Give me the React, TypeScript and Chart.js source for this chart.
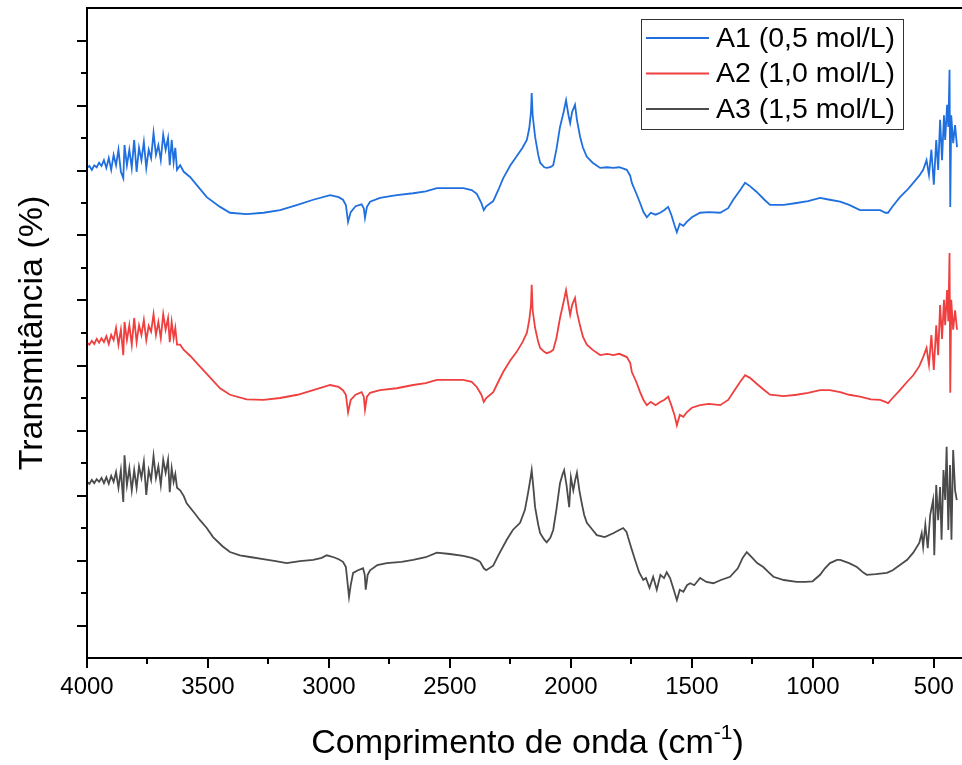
import { useEffect, useRef } from 'react';
import { Chart, registerables } from 'chart.js';

Chart.register(...registerables);

// ---------- text ----------
const SERIES_LABELS = ['A1 (0,5 mol/L)', 'A2 (1,0 mol/L)', 'A3 (1,5 mol/L)'];
const SERIES_COLORS = ['#1F6FDF', '#EF3F3F', '#4B4B4B'];
const X_TITLE_MAIN = 'Comprimento de onda (cm';
const X_TITLE_SUP = '-1';
const X_TITLE_END = ')';
const Y_TITLE = 'Transmitância (%)';

// ---------- axes ----------
const X_MIN = 400;
const X_MAX = 4000;
const X_TICKS = [4000, 3500, 3000, 2500, 2000, 1500, 1000, 500];
const X_MINOR_TICKS = [3750, 3250, 2750, 2250, 1750, 1250, 750];
const Y_MIN = 0;
const Y_MAX = 100;
const Y_MAJOR_TICKS = [5, 15, 25, 35, 45, 55, 65, 75, 85, 95];
const Y_MINOR_TICKS = [10, 20, 30, 40, 50, 60, 70, 80, 90];

// ---------- data: wavenumbers (cm-1) shared by A1 and A2 ----------
const WN_A1_A2 = [
  4000, 3990, 3980, 3970, 3960, 3950, 3940, 3930, 3920, 3910, 3900, 3890, 3880, 3870, 3860, 3850, 3845, 3835, 3825, 3815,
  3805, 3795, 3785, 3775, 3765, 3755, 3745, 3735, 3725, 3715, 3705, 3695, 3685, 3675, 3665, 3658, 3650, 3642, 3635, 3628,
  3615, 3600, 3574, 3547, 3505, 3450, 3409, 3340, 3270, 3202, 3130, 3065, 2995, 2960, 2942, 2930, 2921, 2910, 2890, 2865,
  2856, 2851, 2843, 2830, 2789, 2720, 2652, 2600, 2554, 2500, 2445, 2410, 2389, 2370, 2360, 2350, 2321, 2300, 2280, 2250,
  2224, 2200, 2182, 2172, 2165, 2162, 2158, 2148, 2135, 2127, 2110, 2100, 2085, 2073, 2060, 2045, 2030, 2020, 2010, 2003,
  1995, 1983, 1975, 1962, 1950, 1934, 1910, 1879, 1850, 1825, 1800, 1769, 1755, 1748, 1730, 1714, 1700, 1686, 1670, 1650,
  1631, 1615, 1598, 1585, 1572, 1562, 1550, 1535, 1521, 1500, 1466, 1430, 1383, 1350, 1329, 1300, 1280, 1260, 1232, 1200,
  1177, 1120, 1067, 1020, 970, 930, 887, 850, 805, 760, 722, 700, 689, 670, 640, 610, 585, 560, 544, 530,
  520, 510, 500, 490, 482, 474, 466, 458, 453, 445, 440, 435, 432, 428, 420, 412, 404,
];

const T_A1 = [
  75.4, 75.7, 75.1, 75.8, 75.5, 76.2, 75.7, 76.6, 75.4, 76.9, 75.1, 77.4, 75.8, 78.2, 74.8, 73.8, 78.9, 75.8, 78.2, 75.4,
  79.7, 74.8, 78.5, 76.6, 79.4, 75.4, 78.2, 76.9, 80.8, 77.4, 78.9, 76.6, 80.5, 78.2, 80.0, 75.8, 79.7, 76.3, 78.5, 75.1,
  75.8, 74.8, 74.0, 72.8, 70.9, 69.4, 68.5, 68.3, 68.5, 68.9, 69.7, 70.5, 71.2, 70.9, 70.5, 69.7, 67.1, 68.6, 69.5, 69.8,
  69.2, 67.7, 69.4, 70.2, 70.8, 71.2, 71.5, 71.8, 72.3, 72.3, 72.3, 72.0, 71.4, 70.0, 68.9, 69.5, 70.3, 72.0, 73.8, 75.8,
  77.2, 78.5, 79.7, 81.5, 84.0, 86.9, 83.5, 80.2, 77.4, 76.2, 75.5, 75.4, 75.5, 75.8, 78.2, 81.7, 84.0, 85.8, 83.5, 82.3,
  84.0, 85.1, 82.8, 80.2, 78.5, 77.1, 76.2, 75.4, 75.5, 75.4, 75.5, 75.1, 74.2, 73.1, 71.5, 70.0, 68.6, 67.8, 68.5, 68.2,
  68.5, 68.9, 69.4, 68.2, 66.6, 65.5, 66.8, 66.5, 67.1, 67.8, 68.5, 68.6, 68.5, 69.2, 70.5, 72.0, 73.1, 72.6, 71.7, 70.5,
  69.7, 69.7, 70.0, 70.3, 70.8, 70.5, 70.2, 69.7, 68.9, 68.9, 68.9, 68.5, 68.5, 69.5, 70.9, 72.0, 73.1, 74.2, 75.1, 76.6,
  74.3, 78.2, 72.8, 79.7, 75.1, 82.8, 76.6, 83.5, 79.7, 85.1, 81.7, 90.5, 69.4, 83.5, 79.2, 82.0, 78.6,
];

const T_A2 = [
  48.5, 48.2, 48.8, 48.3, 49.1, 48.5, 49.2, 48.6, 49.5, 48.3, 49.7, 48.9, 50.8, 48.2, 50.5, 46.6, 51.7, 48.9, 51.2, 48.2,
  52.3, 48.6, 51.2, 49.7, 52.0, 48.9, 51.1, 50.2, 52.9, 49.7, 51.7, 49.2, 52.9, 50.5, 52.3, 48.6, 51.7, 49.2, 50.8, 48.2,
  48.2, 47.4, 46.5, 45.4, 43.7, 41.5, 40.5, 39.8, 39.7, 40.0, 40.5, 41.2, 42.0, 41.7, 41.2, 40.5, 37.8, 39.7, 40.5, 40.9,
  40.2, 38.2, 40.2, 40.8, 41.2, 41.5, 42.0, 42.3, 42.8, 42.8, 42.8, 42.5, 41.7, 40.5, 39.4, 40.0, 40.9, 42.5, 44.0, 45.8,
  47.1, 48.6, 50.0, 52.0, 54.3, 57.4, 53.5, 50.8, 48.6, 47.7, 47.1, 46.9, 47.1, 47.4, 49.2, 52.3, 54.8, 56.6, 54.3, 52.8,
  54.3, 55.4, 53.2, 51.1, 49.4, 48.2, 47.4, 46.6, 46.8, 46.6, 46.8, 46.3, 45.4, 44.0, 42.5, 40.9, 39.7, 38.9, 39.4, 38.9,
  39.4, 39.7, 40.2, 38.9, 37.4, 35.8, 37.4, 37.1, 37.8, 38.5, 38.9, 39.1, 38.9, 39.7, 40.9, 42.5, 43.5, 43.1, 42.2, 41.2,
  40.5, 40.3, 40.5, 40.8, 41.2, 41.2, 40.9, 40.5, 40.2, 39.8, 39.7, 39.4, 39.2, 40.0, 41.2, 42.5, 43.5, 44.9, 46.3, 47.7,
  45.1, 49.7, 44.3, 51.2, 46.6, 54.3, 49.1, 55.1, 51.2, 56.6, 51.8, 62.3, 40.8, 55.1, 50.5, 53.5, 50.5,
];

// ---------- data: A3 ----------
const WN_A3 = [
  4000, 3990, 3980, 3970, 3960, 3950, 3940, 3930, 3920, 3910, 3900, 3890, 3880, 3870, 3860, 3850, 3845, 3835, 3825, 3815,
  3805, 3795, 3785, 3775, 3765, 3755, 3745, 3735, 3725, 3715, 3705, 3695, 3685, 3675, 3665, 3658, 3650, 3642, 3635, 3628,
  3615, 3600, 3588, 3560, 3533, 3505, 3479, 3440, 3409, 3368, 3320, 3272, 3220, 3175, 3120, 3065, 3030, 3009, 2980, 2960,
  2942, 2930, 2917, 2910, 2900, 2880, 2859, 2852, 2848, 2840, 2830, 2800, 2761, 2700, 2652, 2600, 2554, 2500, 2445, 2410,
  2389, 2375, 2360, 2350, 2321, 2300, 2265, 2240, 2210, 2190, 2177, 2168, 2162, 2155, 2148, 2135, 2127, 2110, 2100, 2085,
  2073, 2060, 2045, 2035, 2028, 2018, 2007, 2000, 1990, 1982, 1975, 1965, 1955, 1945, 1934, 1910, 1893, 1860, 1825, 1800,
  1784, 1770, 1764, 1750, 1735, 1718, 1701, 1690, 1675, 1660, 1645, 1630, 1615, 1604, 1590, 1575, 1562, 1550, 1535, 1520,
  1507, 1490, 1466, 1440, 1411, 1380, 1342, 1310, 1290, 1273, 1250, 1230, 1205, 1180, 1163, 1120, 1067, 1030, 1001, 970,
  950, 929, 900, 887, 850, 818, 790, 777, 740, 694, 670, 640, 610, 585, 560, 550, 544, 535, 525, 515,
  503, 498, 490, 482, 474, 468, 460, 453, 447, 440, 433, 427, 420, 412, 405,
];

const T_A3 = [
  27.1, 26.8, 27.4, 26.9, 27.5, 27.1, 27.7, 26.9, 27.8, 26.8, 28.0, 27.1, 28.6, 26.2, 28.9, 24.0, 31.2, 26.6, 29.2, 25.8,
  28.9, 26.2, 29.5, 27.7, 30.2, 25.1, 28.9, 27.4, 31.1, 27.7, 29.5, 26.6, 30.5, 28.5, 30.5, 25.5, 29.2, 27.1, 28.3, 26.2,
  25.8, 24.9, 23.8, 22.5, 21.2, 20.0, 18.6, 17.2, 16.3, 15.8, 15.5, 15.2, 14.9, 14.6, 14.9, 15.1, 15.4, 15.8, 15.5, 15.2,
  14.8, 14.0, 9.4, 11.2, 13.1, 13.5, 13.8, 12.8, 10.5, 12.8, 13.5, 14.3, 14.6, 14.8, 15.1, 15.5, 16.2, 16.0, 15.7, 15.4,
  15.1, 14.8, 13.8, 13.5, 14.2, 15.8, 18.2, 19.7, 20.8, 22.8, 25.4, 27.4, 28.9, 26.2, 23.2, 20.5, 19.2, 18.2, 17.8, 18.5,
  19.7, 22.8, 26.9, 28.2, 28.9, 26.6, 23.2, 27.8, 25.8, 27.4, 28.5, 25.8, 23.8, 22.0, 20.8, 19.7, 18.9, 18.6, 19.2, 19.7,
  20.0, 19.4, 18.6, 16.9, 15.1, 13.2, 12.0, 12.3, 10.8, 12.5, 10.5, 12.8, 12.3, 13.2, 12.3, 10.5, 8.9, 10.5, 10.2, 11.2,
  11.5, 11.2, 12.3, 11.7, 11.5, 12.0, 12.5, 13.8, 15.4, 16.3, 15.4, 14.6, 14.0, 13.1, 12.5, 12.0, 11.7, 11.7, 11.8, 12.8,
  13.8, 14.6, 15.1, 15.1, 14.6, 14.0, 13.1, 12.8, 12.9, 13.1, 13.5, 14.3, 15.1, 16.2, 17.7, 19.2, 17.1, 20.5, 16.9, 22.0,
  24.3, 15.8, 26.6, 21.2, 26.3, 18.2, 28.9, 24.3, 32.5, 19.7, 29.7, 18.2, 32.0, 25.8, 24.3,
];

const FONT_FAMILY = "'Liberation Sans', Arial, Helvetica, sans-serif";

const toPoints = (xs: number[], ys: number[]) => xs.map((x, i) => ({ x, y: ys[i] }));

const decorPlugin = {
  id: 'decor',
  afterDraw(chart: any) {
    const { ctx, chartArea: a, scales } = chart;
    const xs = scales.x;
    const ys = scales.y;
    ctx.save();
    ctx.strokeStyle = '#000';
    ctx.lineWidth = 2;
    ctx.lineCap = 'butt';
    // frame: left, bottom, top
    ctx.beginPath();
    ctx.moveTo(a.left, a.top - 1);
    ctx.lineTo(a.left, a.bottom + 1);
    ctx.moveTo(a.left - 1, a.bottom);
    ctx.lineTo(chart.width, a.bottom);
    ctx.moveTo(a.left - 1, a.top);
    ctx.lineTo(chart.width, a.top);
    ctx.stroke();
    // x ticks
    ctx.beginPath();
    X_TICKS.forEach((v) => {
      const px = Math.round(xs.getPixelForValue(v));
      ctx.moveTo(px, a.bottom);
      ctx.lineTo(px, a.bottom + 10);
    });
    X_MINOR_TICKS.forEach((v) => {
      const px = Math.round(xs.getPixelForValue(v));
      ctx.moveTo(px, a.bottom);
      ctx.lineTo(px, a.bottom + 6);
    });
    // y ticks
    Y_MAJOR_TICKS.forEach((v) => {
      const py = Math.round(ys.getPixelForValue(v));
      ctx.moveTo(a.left, py);
      ctx.lineTo(a.left - 10, py);
    });
    Y_MINOR_TICKS.forEach((v) => {
      const py = Math.round(ys.getPixelForValue(v));
      ctx.moveTo(a.left, py);
      ctx.lineTo(a.left - 6, py);
    });
    ctx.stroke();

    // x title with superscript
    ctx.fillStyle = '#000';
    ctx.textBaseline = 'alphabetic';
    ctx.textAlign = 'left';
    const mainFont = `34px ${FONT_FAMILY}`;
    const supFont = `21px ${FONT_FAMILY}`;
    ctx.font = mainFont;
    const w1 = ctx.measureText(X_TITLE_MAIN).width;
    const w3 = ctx.measureText(X_TITLE_END).width;
    ctx.font = supFont;
    const w2 = ctx.measureText(X_TITLE_SUP).width;
    const total = w1 + w2 + w3;
    const cx = (a.left + a.right) / 2 + 5;
    const base = a.bottom + 95;
    let x0 = cx - total / 2;
    ctx.font = mainFont;
    ctx.fillText(X_TITLE_MAIN, x0, base);
    x0 += w1;
    ctx.font = supFont;
    ctx.fillText(X_TITLE_SUP, x0, base - 14);
    x0 += w2;
    ctx.font = mainFont;
    ctx.fillText(X_TITLE_END, x0, base);

    // legend
    const bx0 = a.right - 317;
    const bx1 = a.right - 55;
    const by0 = a.top + 11;
    const by1 = a.top + 121;
    ctx.fillStyle = '#fff';
    ctx.fillRect(bx0, by0, bx1 - bx0, by1 - by0);
    ctx.strokeStyle = '#333';
    ctx.lineWidth = 1;
    ctx.strokeRect(bx0 + 0.5, by0 + 0.5, bx1 - bx0, by1 - by0);
    ctx.font = `28.5px ${FONT_FAMILY}`;
    ctx.textBaseline = 'middle';
    SERIES_LABELS.forEach((label, i) => {
      const ly = by0 + 19 + i * 35.5;
      ctx.strokeStyle = SERIES_COLORS[i];
      ctx.lineWidth = 2;
      ctx.beginPath();
      ctx.moveTo(bx0 + 5, ly);
      ctx.lineTo(bx0 + 68, ly);
      ctx.stroke();
      ctx.fillStyle = '#000';
      ctx.fillText(label, bx0 + 75, ly + 1);
    });
    ctx.restore();
  },
};

export default function App() {
  const canvasRef = useRef<HTMLCanvasElement | null>(null);

  useEffect(() => {
    const canvas = canvasRef.current;
    if (!canvas) return;
    const series = [
      toPoints(WN_A1_A2, T_A1),
      toPoints(WN_A1_A2, T_A2),
      toPoints(WN_A3, T_A3),
    ];
    const chart = new Chart(canvas, {
      type: 'line',
      data: {
        datasets: series.map((data, i) => ({
          label: SERIES_LABELS[i],
          data,
          borderColor: SERIES_COLORS[i],
          backgroundColor: SERIES_COLORS[i],
          borderWidth: 1.8,
          pointRadius: 0,
          tension: 0,
          fill: false,
        })),
      },
      options: {
        responsive: false,
        animation: false,
        devicePixelRatio: 1,
        layout: { padding: { top: 8, right: 4, left: 0, bottom: 0 } },
        plugins: {
          legend: { display: false },
          tooltip: { enabled: false },
        },
        scales: {
          x: {
            type: 'linear',
            reverse: true,
            min: X_MIN,
            max: X_MAX,
            grid: { display: false, drawTicks: false },
            border: { display: false },
            ticks: {
              autoSkip: false,
              maxRotation: 0,
              padding: 15,
              color: '#000',
              font: { family: FONT_FAMILY, size: 24 },
              callback: (v: any) => String(v),
            },
            afterBuildTicks: (scale: any) => {
              scale.ticks = X_TICKS.map((value) => ({ value }));
            },
            afterFit: (scale: any) => {
              scale.height = 107;
              scale.paddingLeft = 0;
              scale.paddingRight = 0;
            },
          },
          y: {
            type: 'linear',
            min: Y_MIN,
            max: Y_MAX,
            grid: { display: false, drawTicks: false },
            border: { display: false },
            ticks: { display: false },
            title: {
              display: true,
              text: Y_TITLE,
              color: '#000',
              font: { family: FONT_FAMILY, size: 34, weight: 'normal' },
              padding: { top: 12, bottom: 0 },
            },
            afterFit: (scale: any) => {
              scale.width = 87;
              scale.paddingTop = 0;
              scale.paddingBottom = 0;
            },
          },
        },
      },
      plugins: [decorPlugin],
    });
    return () => chart.destroy();
  }, []);

  return (
    <div style={{ position: 'absolute', left: 0, top: 0, width: 962, height: 765, background: '#fff' }}>
      <canvas ref={canvasRef} width={962} height={765} style={{ display: 'block' }} />
    </div>
  );
}
